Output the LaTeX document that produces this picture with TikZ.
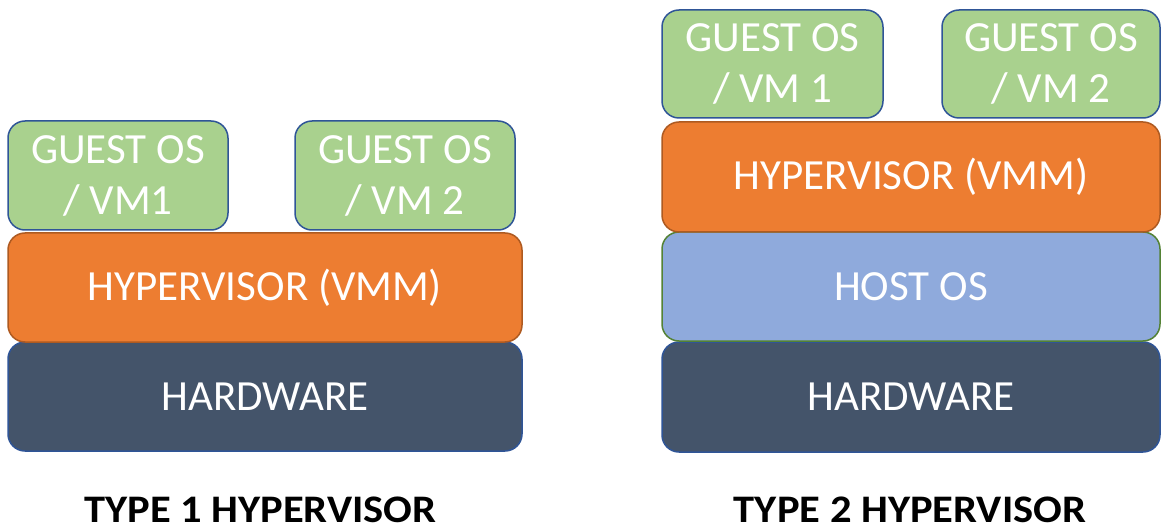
\documentclass[tikz,border=0pt]{standalone}
\usepackage{fontspec}
\setmainfont{Carlito}
\definecolor{guestfill}{HTML}{A9D18E}
\definecolor{guestline}{HTML}{2F5597}
\definecolor{vmmfill}{HTML}{ED7D31}
\definecolor{vmmline}{HTML}{AE5A21}
\definecolor{hostfill}{HTML}{8FAADC}
\definecolor{hostline}{HTML}{548235}
\definecolor{hwfill}{HTML}{44546A}
\definecolor{hwline}{HTML}{2F5597}
\tikzset{
  layer/.style={rectangle, rounded corners=17pt, line width=1.5pt, inner sep=0pt,
    text=white, align=center, font=\fontsize{43}{51}\selectfont},
  guest/.style={layer, fill=guestfill, draw=guestline},
  vmm/.style={layer, fill=vmmfill, draw=vmmline},
  hostos/.style={layer, fill=hostfill, draw=hostline},
  hw/.style={layer, fill=hwfill, draw=hwline},
  caption/.style={font=\bfseries\fontsize{39}{46}\selectfont, text=black, inner sep=0pt, xscale=1.09}
}
\begin{document}
\begin{tikzpicture}[x=1pt,y=-1pt]
\useasboundingbox (0,0) rectangle (1161,529);
% Type 1: bare-metal stack
\node[hw, minimum width=514pt, minimum height=109pt] (hw1) at (265,396.5) {HARDWARE};
\node[vmm, minimum width=514pt, minimum height=109pt] (vmm1) at (265,287.5) {HYPERVISOR (VMM)};
\node[guest, minimum width=220pt, minimum height=109pt] (g11) at (118,175.5) {GUEST OS\\/ VM1};
\node[guest, minimum width=220pt, minimum height=109pt] (g12) at (405,175.5) {GUEST OS\\/ VM 2};
\node[caption] (t1) at (260.5,510) {TYPE 1 HYPERVISOR};
% Type 2: hosted stack
\node[hw, minimum width=498pt, minimum height=110pt] (hw2) at (911,397) {HARDWARE};
\node[hostos, minimum width=498pt, minimum height=109pt] (host2) at (911,286.5) {HOST OS};
\node[vmm, minimum width=498pt, minimum height=110pt] (vmm2) at (911,177) {HYPERVISOR (VMM)};
\node[guest, minimum width=221pt, minimum height=108pt] (g21) at (772.5,64) {GUEST OS\\/ VM 1};
\node[guest, minimum width=218pt, minimum height=108pt] (g22) at (1051,64) {GUEST OS\\/ VM 2};
\node[caption] (t2) at (910,510) {TYPE 2 HYPERVISOR};
\end{tikzpicture}
\end{document}
